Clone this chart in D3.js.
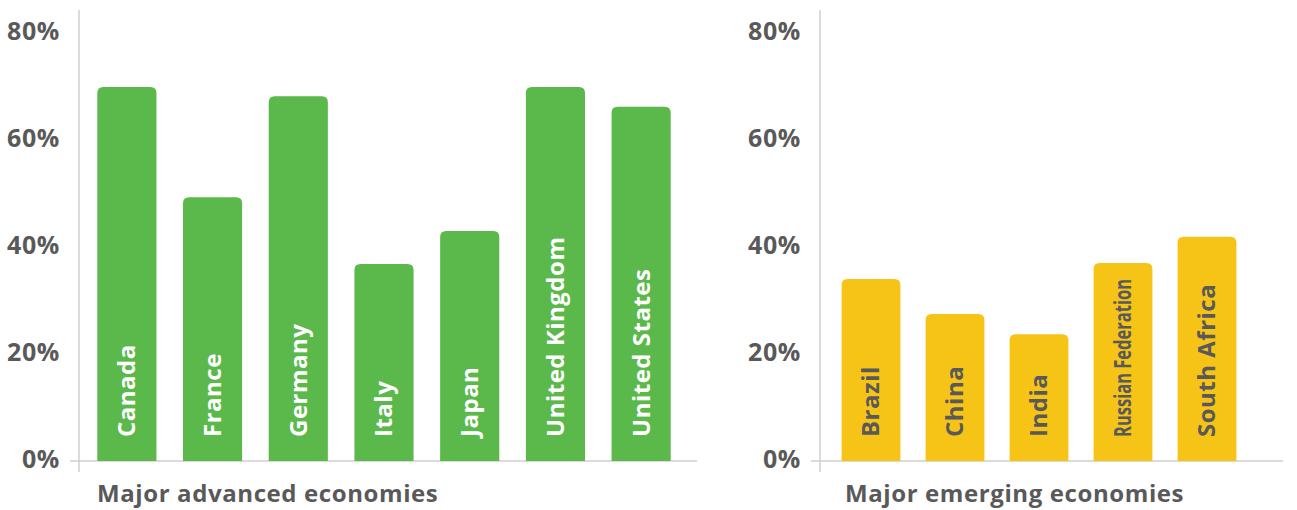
<!DOCTYPE html>
<html>
<head>
  <meta charset="utf-8">
  <title>Advanced vs emerging economies</title>
  <style>
    body { margin: 0; background: #fff; }
    text { font-family: "Open Sans", "Noto Sans", sans-serif; font-weight: bold; }
  </style>
</head>
<body>
  <script src="https://d3js.org/d3.v7.min.js"></script>
  <script type="text/javascript">

var advancedNames = ["Canada", "France", "Germany", "Italy", "Japan", "United Kingdom", "United States"];
var advancedValues = [69.9, 49.3, 68.2, 36.8, 43.0, 69.9, 66.2];

var emergingNames = ["Brazil", "China", "India", "Russian Federation", "South Africa"];
var emergingValues = [34.0, 27.5, 23.7, 37.0, 41.9];

var tickValues = [0, 20, 40, 60, 80];

var width = 1297, height = 510;

var svg = d3.select("body")
    .append("svg")
    .attr("width", width)
    .attr("height", height);

// top-rounded bar
function barPath(x, y, w, h, r) {
  r = Math.min(r, h);
  return "M" + x + "," + (y + h) +
    "V" + (y + r) +
    "Q" + x + "," + y + " " + (x + r) + "," + y +
    "H" + (x + w - r) +
    "Q" + (x + w) + "," + y + " " + (x + w) + "," + (y + r) +
    "V" + (y + h) + "Z";
}

function panel(opts) {
  var g = svg.append("g");

  var y = d3.scaleLinear().domain([0, 80]).range([461, 33]);
  var x = d3.scaleBand()
      .domain(opts.names)
      .range(opts.xRange)
      .paddingInner(opts.pad)
      .paddingOuter(opts.pad / 2);

  // tick labels
  var axis = d3.axisLeft(y)
      .tickValues(tickValues)
      .tickSize(0)
      .tickPadding(19)
      .tickFormat(function(d) { return d + "%"; });

  var ax = g.append("g")
      .attr("transform", "translate(" + opts.axisX + ",-2)")
      .call(axis);
  ax.select(".domain").remove();
  ax.selectAll("text")
      .attr("fill", "#595959")
      .style("font-size", "25px")
      .style("letter-spacing", "0.6px")
      .attr("dy", "0.35em");

  // axis lines
  g.append("line")
      .attr("x1", opts.axisX).attr("x2", opts.axisX)
      .attr("y1", 10).attr("y2", 472)
      .attr("stroke", "#cfcfcf").attr("stroke-width", 1.5);
  g.append("line")
      .attr("x1", opts.axisX - 9).attr("x2", opts.lineEnd)
      .attr("y1", y(0)).attr("y2", y(0))
      .attr("stroke", "#cfcfcf").attr("stroke-width", 1.5);

  var data = opts.names.map(function(n, i) { return { name: n, value: opts.values[i] }; });

  g.selectAll(".bar")
      .data(data)
      .enter().append("path")
      .attr("class", "bar")
      .attr("fill", opts.color)
      .attr("d", function(d) {
        return barPath(x(d.name), y(d.value), x.bandwidth(), y(0) - y(d.value), 6);
      });

  g.selectAll(".lbl")
      .data(data)
      .enter().append("text")
      .attr("class", "lbl")
      .attr("transform", function(d) {
        return "translate(" + (x(d.name) + x.bandwidth() / 2) + "," + (y(0) - 24) + ") rotate(-90)";
      })
      .attr("dy", "0.35em")
      .attr("text-anchor", "start")
      .attr("fill", opts.labelColor)
      .style("font-size", "24px")
      .style("letter-spacing", "0.5px")
      .each(function(d) {
        if (opts.squeeze && opts.squeeze[d.name]) {
          d3.select(this)
            .style("letter-spacing", "0px")
            .attr("textLength", opts.squeeze[d.name])
            .attr("lengthAdjust", "spacingAndGlyphs");
        }
      })
      .text(function(d) { return d.name; });

  g.append("text")
      .attr("x", opts.titleX)
      .attr("y", 502)
      .attr("fill", "#595959")
      .style("font-size", "24px")
      .style("letter-spacing", "0.6px")
      .text(opts.title);
}

panel({
  names: advancedNames,
  values: advancedValues,
  axisX: 79,
  xRange: [84, 684],
  pad: 0.31,
  lineEnd: 697,
  color: "#5ab94a",
  labelColor: "#ffffff",
  title: "Major advanced economies",
  titleX: 97
});

panel({
  names: emergingNames,
  values: emergingValues,
  axisX: 820,
  xRange: [829, 1249],
  pad: 0.3,
  lineEnd: 1283,
  color: "#f6c416",
  labelColor: "#595959",
  title: "Major emerging economies",
  titleX: 845,
  squeeze: { "Russian Federation": 158 }
});

  </script>
</body>
</html>
